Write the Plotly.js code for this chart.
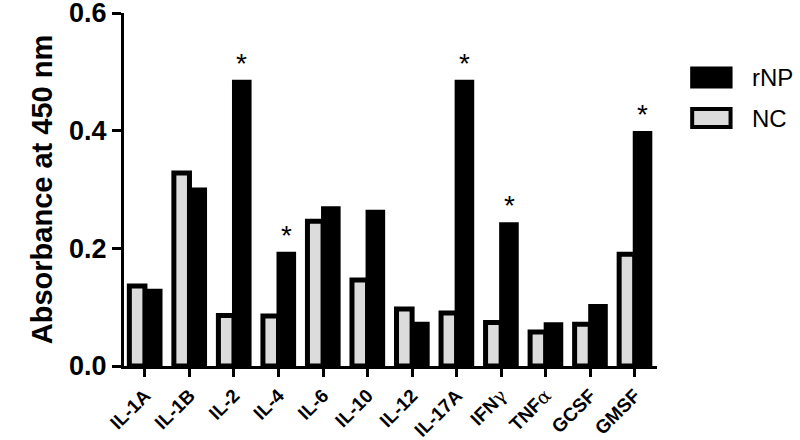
<!DOCTYPE html>
<html>
<head>
<meta charset="utf-8">
<script src="https://cdn.plot.ly/plotly-3.0.1.min.js"></script>
<style>html,body{margin:0;padding:0;background:#fff;}#chart{width:800px;height:440px;}</style>
</head>
<body>
<div id="chart"></div>
<script>
const categories = ['IL-1A','IL-1B','IL-2','IL-4','IL-6','IL-10','IL-12','IL-17A','IFNγ','TNFα','GCSF','GMSF'];
const tickLabels = ['IL-1A','IL-1B','IL-2','IL-4','IL-6','IL-10','IL-12','IL-17A',
  'IFN<span style="font-weight:normal;font-family:DejaVu Serif">γ</span>',
  'TNF<span style="font-weight:normal;font-family:DejaVu Serif">α</span>',
  'GCSF','GMSF'];
const ncValues  = [0.136, 0.328, 0.086, 0.085, 0.246, 0.146, 0.097, 0.090, 0.074, 0.058, 0.071, 0.190];
const rnpValues = [0.128, 0.300, 0.483, 0.191, 0.268, 0.262, 0.072, 0.483, 0.241, 0.071, 0.102, 0.396];
const significant = ['IL-2','IL-4','IL-17A','IFNγ','GMSF'];
const yTicks = [0, 0.2, 0.4, 0.6];
const yTickText = ['0.0','0.2','0.4','0.6'];

const traces = [
  {type:'bar', name:'NC', x:categories, y:ncValues,
   marker:{color:'#dcdcdc', line:{color:'#000000', width:5}}, showlegend:false},
  {type:'bar', name:'rNP', x:categories, y:rnpValues,
   marker:{color:'#000000', line:{color:'#000000', width:4}}, showlegend:false}
];

const annotations = significant.map(c => ({
  x: c, y: rnpValues[categories.indexOf(c)], xref:'x', yref:'y',
  text:'*', showarrow:false, xanchor:'center', yanchor:'bottom', xshift:8, yshift:1,
  font:{family:'Liberation Sans, Arial, sans-serif', size:28, color:'#000'}
}));
annotations.push(
  {xref:'paper', yref:'paper', x:1.175, y:0.817, text:'rNP', showarrow:false, xanchor:'left', yanchor:'middle',
   font:{family:'Liberation Sans, Arial, sans-serif', size:24, color:'#000'}},
  {xref:'paper', yref:'paper', x:1.175, y:0.701, text:'NC', showarrow:false, xanchor:'left', yanchor:'middle',
   font:{family:'Liberation Sans, Arial, sans-serif', size:24, color:'#000'}}
);

const shapes = [
  {type:'rect', xref:'paper', yref:'paper', x0:1.066, x1:1.138, y0:0.792, y1:0.843,
   fillcolor:'#000', line:{color:'#000', width:4}},
  {type:'rect', xref:'paper', yref:'paper', x0:1.066, x1:1.138, y0:0.677, y1:0.728,
   fillcolor:'#dcdcdc', line:{color:'#000', width:4}}
];

const layout = {
  width:800, height:440,
  margin:{l:124, r:143, t:13, b:74},
  paper_bgcolor:'#fff', plot_bgcolor:'#fff',
  barmode:'group', bargap:0.3, bargroupgap:0,
  font:{family:'Liberation Sans, Arial, sans-serif', color:'#000'},
  xaxis:{
    type:'category', range:[-0.47, 11.5], tickmode:'array', tickvals:categories, ticktext:tickLabels,
    tickangle:-45, ticks:'outside', ticklen:8, tickwidth:3, tickcolor:'#000',
    showline:true, linewidth:3, linecolor:'#000', showgrid:false, zeroline:false,
    ticklabeloverflow:'allow',
    tickfont:{family:'Liberation Sans, Arial, sans-serif', size:19, weight:'bold', color:'#000'}
  },
  yaxis:{
    range:[0, 0.6], tickmode:'array', tickvals:yTicks, ticktext:yTickText,
    ticks:'outside', ticklen:9, tickwidth:3, tickcolor:'#000',
    showline:true, linewidth:3, linecolor:'#000', showgrid:false, zeroline:false,
    ticklabeloverflow:'allow',
    tickfont:{family:'Liberation Sans, Arial, sans-serif', size:27, weight:'bold', color:'#000'},
    title:{text:'<b>Absorbance at 450 nm</b>', standoff:8,
      font:{family:'Liberation Sans, Arial, sans-serif', size:29, color:'#000'}}
  },
  annotations:annotations,
  shapes:shapes
};

Plotly.newPlot('chart', traces, layout, {displayModeBar:false, staticPlot:true});
</script>
</body>
</html>
